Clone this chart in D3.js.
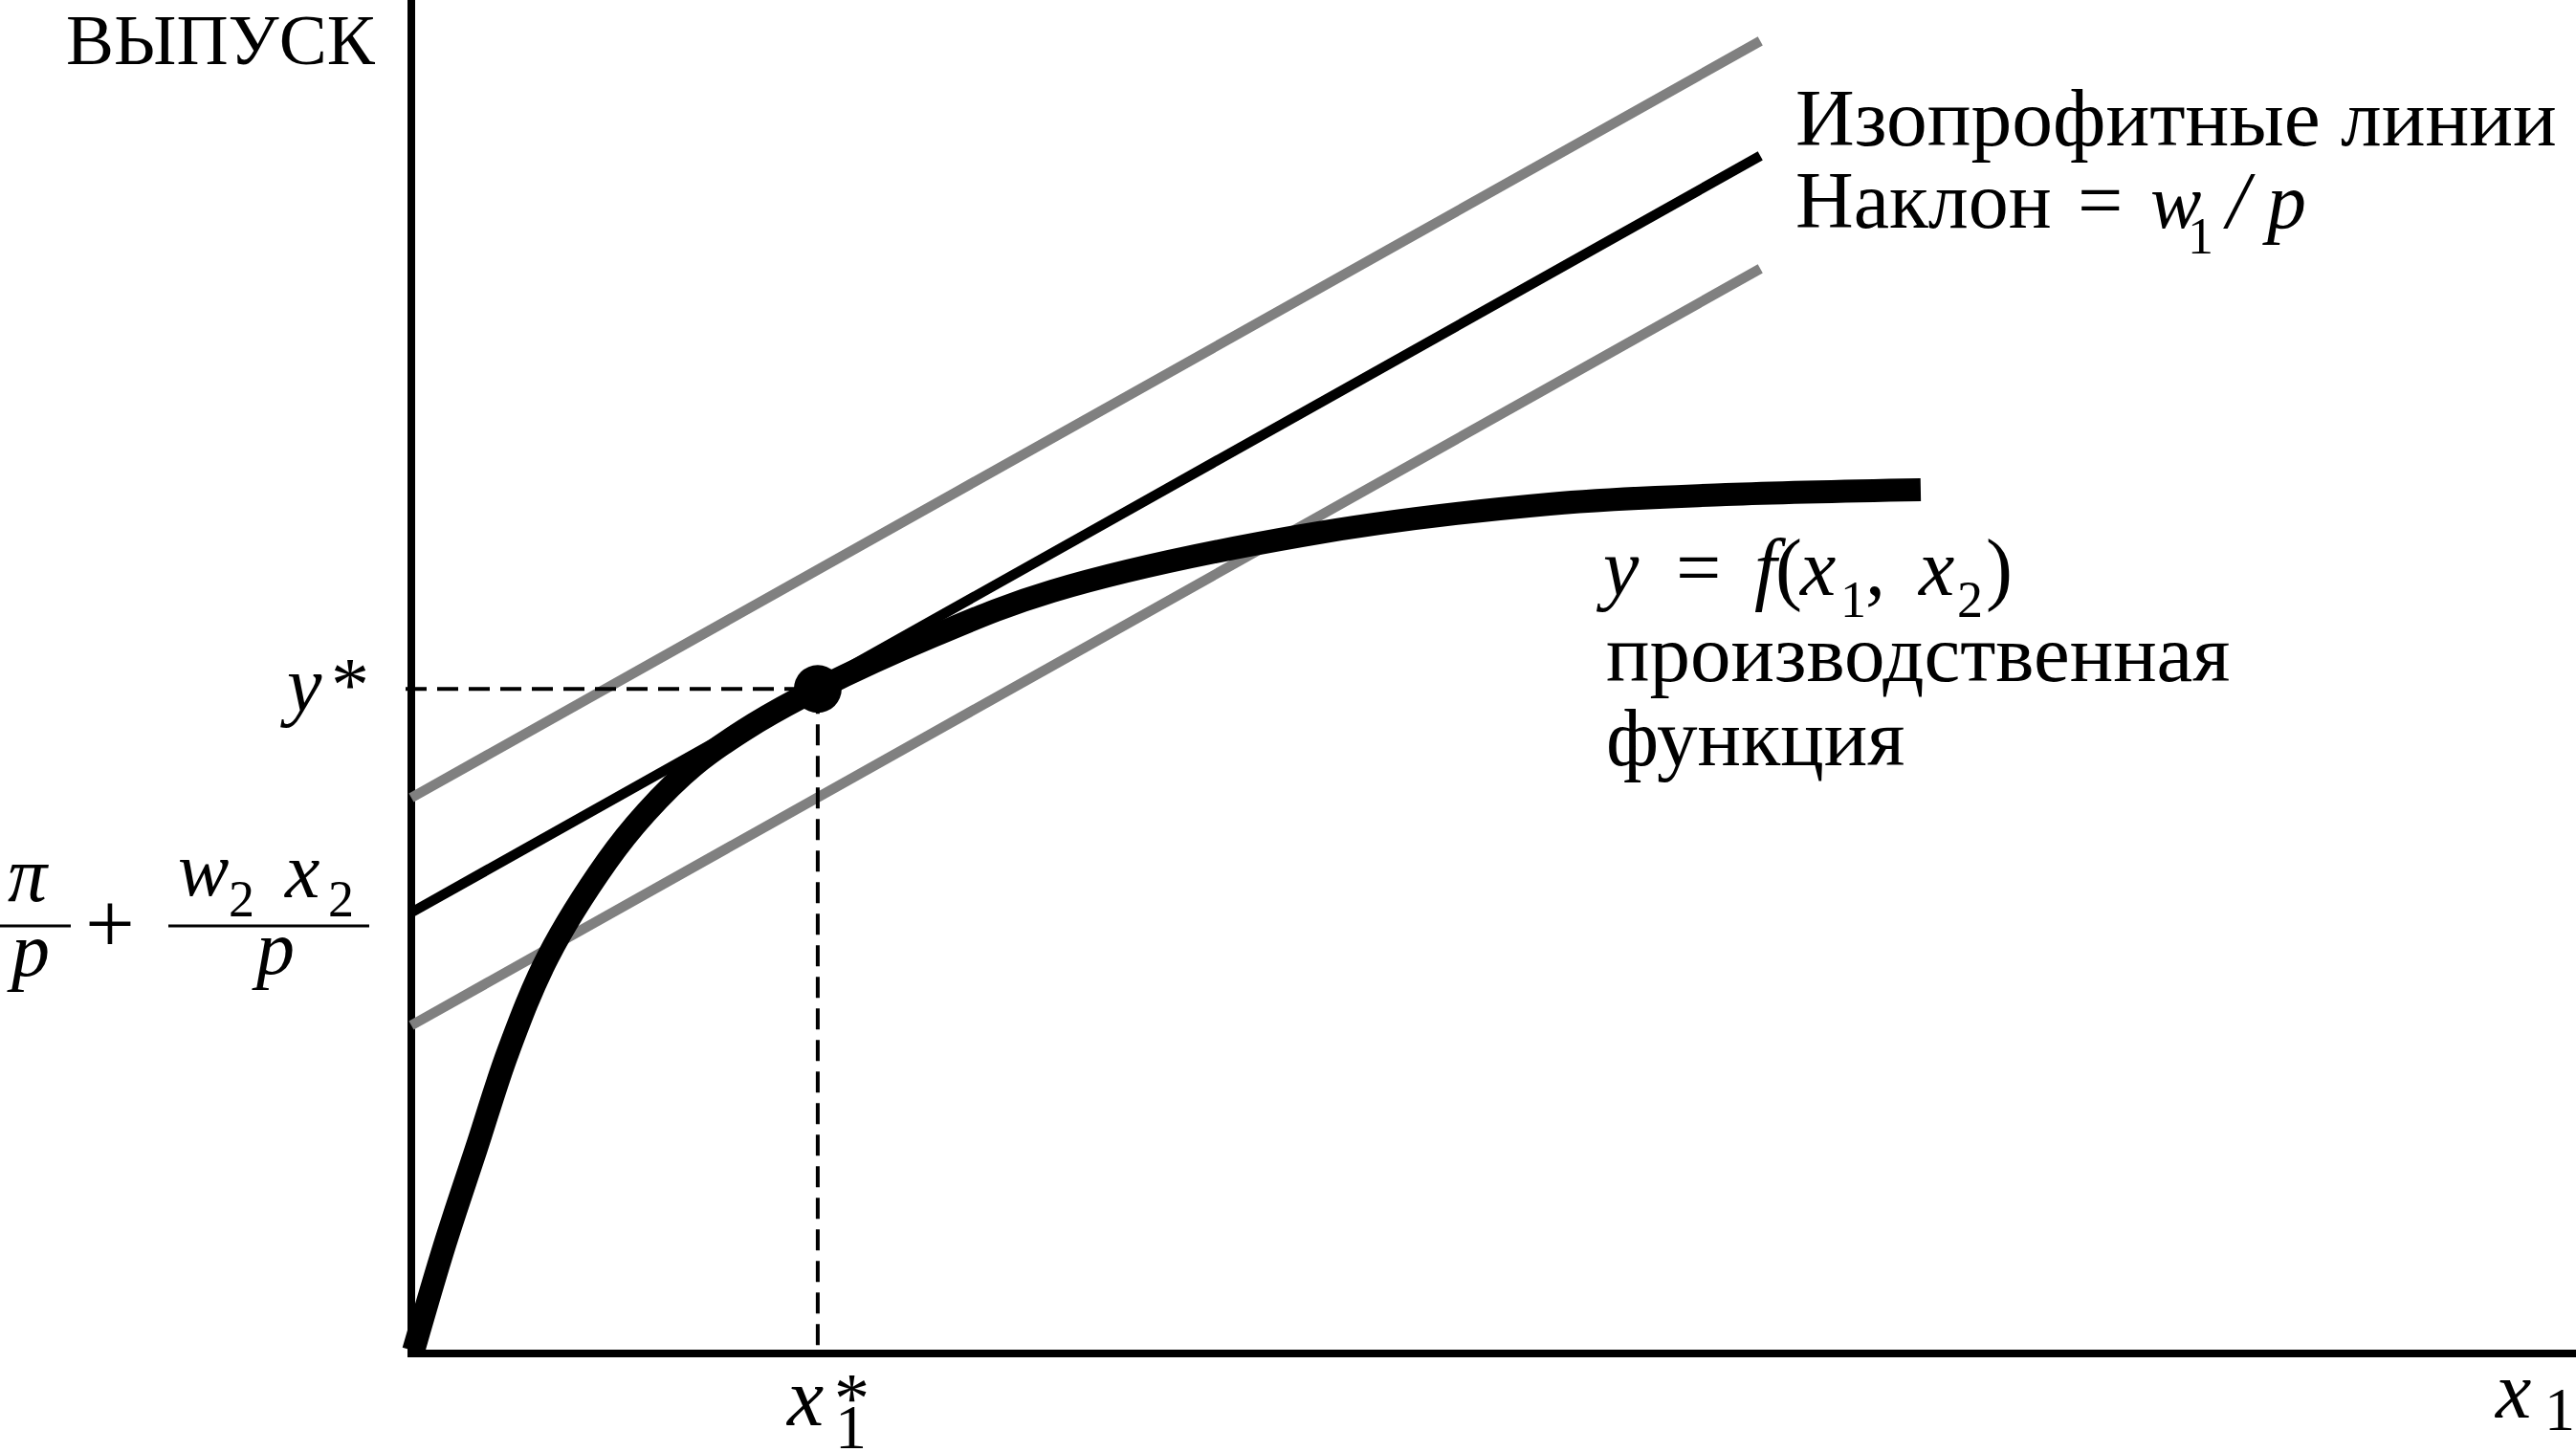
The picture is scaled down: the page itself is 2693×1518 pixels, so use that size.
<!DOCTYPE html>
<html>
<head>
<meta charset="utf-8">
<script src="https://cdn.jsdelivr.net/npm/d3@7"></script>
<style>
  html, body { margin: 0; padding: 0; background: #fff; }
  svg { display: block; }
  text { font-family: "Liberation Serif", "Times New Roman", serif; fill: #000; }
</style>
</head>
<body>
<svg id="chart" width="2693" height="1518"></svg>
<script>
// ---------------- data ----------------
// production function y = f(x1, x2) (data units: x 0..100, y 0..100)
const curveX = [0.1, 1.52, 3.0, 4.48, 6.33, 9.07, 10.84, 13.10, 15.84, 18.8, 24.03, 29.65, 41.15, 52.65, 60.80, 69.82];
const curveY = [0.2, 7.9, 15.1, 22.3, 29.33, 36.40, 39.93, 43.46, 46.50, 49.1, 52.93, 56.33, 60.42, 62.76, 63.46, 63.82];
// isoprofit lines: y = intercept + slope * x
const isoSlope = 0.896;
const isoIntercepts = [41.06, 32.58, 24.24];
const isoKinds = ["other", "optimal", "other"];
const isoEndX = 62.4;
// optimum
const xStar = 18.8;
const yStar = 49.1;

// ---------------- setup ----------------
const W = 2693, H = 1518;
const svg = d3.select("#chart");
svg.append("rect").attr("width", W).attr("height", H).attr("fill", "#fff");

const x = d3.scaleLinear().domain([0, 100]).range([430, 2690]);
const y = d3.scaleLinear().domain([0, 100]).range([1415, 0]);

const GRAY = "#808080";

// axes
svg.append("line").attr("x1", x(0)).attr("x2", x(0))
  .attr("y1", y(0) + 4).attr("y2", 0)
  .attr("stroke", "#000").attr("stroke-width", 8);
svg.append("line").attr("x1", x(0) - 4).attr("x2", W)
  .attr("y1", y(0)).attr("y2", y(0))
  .attr("stroke", "#000").attr("stroke-width", 8);

// isoprofit lines
svg.selectAll("line.iso").data(isoIntercepts.map((b, i) => ({b, kind: isoKinds[i]})))
  .enter().append("line").attr("class", "iso")
  .attr("x1", x(0)).attr("y1", d => y(d.b))
  .attr("x2", x(isoEndX)).attr("y2", d => y(d.b + isoSlope * isoEndX))
  .attr("stroke", d => d.kind === "optimal" ? "#000" : GRAY)
  .attr("stroke-width", 10.5);

// dashed guides
svg.append("line")
  .attr("x1", x(0) - 6).attr("y1", y(yStar)).attr("x2", x(xStar)).attr("y2", y(yStar))
  .attr("stroke", "#000").attr("stroke-width", 4).attr("stroke-dasharray", "22,11");
svg.append("line")
  .attr("x1", x(xStar)).attr("y1", y(yStar) + 4).attr("x2", x(xStar)).attr("y2", y(0))
  .attr("stroke", "#000").attr("stroke-width", 4).attr("stroke-dasharray", "22,11");

// production function
const pts = curveX.map((v, i) => [v, curveY[i]]);
svg.append("path").datum(pts)
  .attr("d", d3.line().x(d => x(d[0])).y(d => y(d[1])).curve(d3.curveCatmullRom.alpha(0.5)))
  .attr("fill", "none").attr("stroke", "#000").attr("stroke-width", 24)
  .attr("stroke-linecap", "butt");

// optimum point
svg.append("circle").attr("cx", x(xStar)).attr("cy", y(yStar)).attr("r", 25).attr("fill", "#000");

// ---------------- text ----------------
// one <text> per label; each part is a tspan with its own position/size/style
function label(parts) {
  const t = svg.append("text");
  parts.forEach(p => {
    t.append("tspan").attr("x", p[0]).attr("y", p[1])
      .attr("font-size", p[3])
      .attr("font-style", p[4] ? "italic" : "normal")
      .text(p[2]);
  });
  return t;
}

// y-axis title
label([[69, 67, "ВЫПУСК", 75, false]]);

// isoprofit label
label([[1877, 152, "Изопрофитные линии", 85.5, false]]);
label([
  [1877, 238, "Наклон", 84, false],
  [2172, 238, "=", 84, false],
  [2248, 238, "w", 80, true],
  [2287, 265, "1", 54, false],
  [2328, 238, "/", 84, true],
  [2370, 238, "p", 82, true]
]);

// production function label
label([
  [1676, 622, "y", 84, true],
  [1752, 622, "=", 84, false],
  [1834, 622, "f", 84, true],
  [1856, 622, "(", 84, false],
  [1882, 622, "x", 84, true],
  [1924, 645, "1", 54, false],
  [1950, 622, ",", 84, false],
  [2006, 622, "x", 84, true],
  [2046, 645, "2", 54, false],
  [2076, 622, ")", 84, false]
]);
label([[1679, 712, "производственная", 85, false]]);
label([[1679, 800, "функция", 85, false]]);

// y* label
const ys = y(yStar);
label([[300, ys + 23, "y", 82, true], [346, ys + 23, "*", 80, false]]);

// intercept label  π/p + w2 x2 / p
const barY = 968;
label([[8, 942, "π", 82, true], [12, 1020, "p", 80, true]]);
svg.append("line").attr("x1", 0).attr("x2", 74).attr("y1", barY).attr("y2", barY).attr("stroke", "#000").attr("stroke-width", 3);
label([[89, 996, "+", 92, false]]);
svg.append("line").attr("x1", 176).attr("x2", 386).attr("y1", barY).attr("y2", barY).attr("stroke", "#000").attr("stroke-width", 3);
label([
  [186, 936, "w", 80, true],
  [239, 958, "2", 54, false],
  [298, 938, "x", 82, true],
  [343, 958, "2", 54, false],
  [268, 1018, "p", 80, true]
]);

// x1* label
const xs = x(xStar);
label([
  [xs - 32, 1490, "x", 86, true],
  [xs + 17, 1487, "*", 74, false],
  [xs + 18, 1514, "1", 66, false]
]);

// x-axis title
label([[2609, 1482, "x", 84, true], [2660, 1495, "1", 64, false]]);
</script>
</body>
</html>
